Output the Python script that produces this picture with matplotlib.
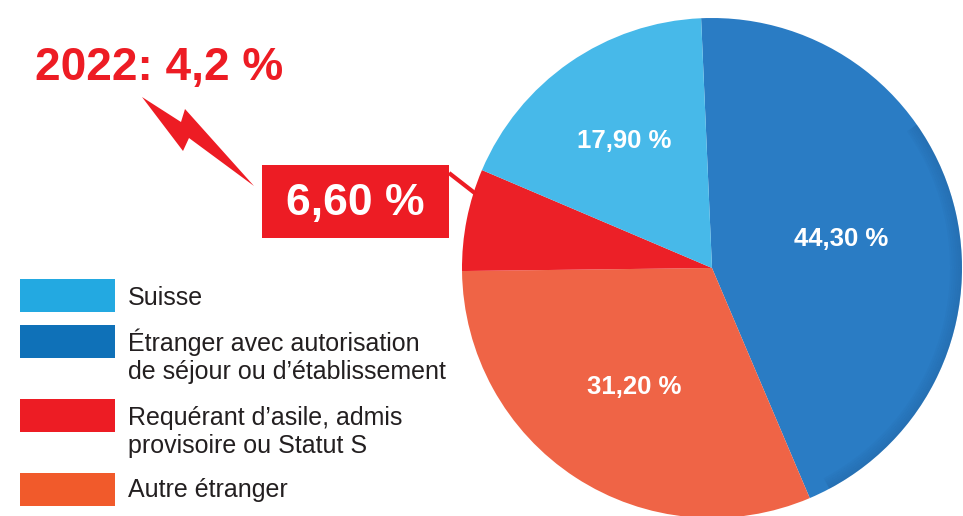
import matplotlib
matplotlib.use("Agg")
import numpy as np
import matplotlib.pyplot as plt
from matplotlib.patches import Rectangle, Polygon, Wedge

# données
categories = ["Suisse",
              "Étranger avec autorisation\nde séjour ou d’établissement",
              "Requérant d’asile, admis\nprovisoire ou Statut S",
              "Autre étranger"]
valeurs = [17.9, 44.3, 6.6, 31.2]
couleurs_pie = ["#47b9e9", "#2a7cc4", "#ec2027", "#ef6446"]
couleurs_legende = ["#23a9e1", "#0f71b8", "#ed1c24", "#f15a2b"]
annee_prec = 2022
valeur_prec = 4.2

# ordre du camembert (sens horaire depuis le haut)
ordre = [1, 3, 2, 0]
dist_labels = [0.62, 0.53, 0.0, 0.57]

ROUGE = "#ed1c24"
TEXTE = "#231f20"
W, H = 963, 516

plt.rcParams['font.family'] = ['Liberation Sans', 'DejaVu Sans']
fig = plt.figure(figsize=(W / 100, H / 100), dpi=100)
ax = fig.add_axes([0, 0, 1, 1])

# ==========================
# Camembert
# ==========================
cx, cy, r = 712, 268, 250
wedges, _ = ax.pie([valeurs[i] for i in ordre],
                   colors=[couleurs_pie[i] for i in ordre],
                   startangle=-92.5, counterclock=True,
                   center=(cx, cy), radius=r, frame=True,
                   wedgeprops=dict(linewidth=0))

# petit effet de relief sur le bord droit
for k in range(6):
    ax.add_patch(Wedge((cx, cy), r - k * 2, -35, 62, width=2,
                       color="#1b4f86", alpha=0.26 - k * 0.04, lw=0))

def fmt(v):
    return f"{v:.2f} %".replace(".", ",")

gras = ['Liberation Sans Narrow', 'Liberation Sans', 'DejaVu Sans']
for w, i in zip(wedges, ordre):
    if dist_labels[i] == 0:
        continue
    mid = np.deg2rad((w.theta1 + w.theta2) / 2)
    d = dist_labels[i] * r
    ax.text(cx + d * np.cos(mid), cy + d * np.sin(mid), fmt(valeurs[i]),
            color="white", fontsize=18.5, fontweight="bold", family=gras,
            ha="center", va="center")

# ==========================
# Encadré Requérant + éclair
# ==========================
ax.plot([449, 476], [173, 194], color=ROUGE, lw=3, solid_capstyle="butt")
ax.add_patch(Rectangle((262, 165), 187, 73, color=ROUGE, lw=0))
ax.text(355, 203, fmt(valeurs[2]), color="white", fontsize=32,
        fontweight="bold", family=gras, ha="center", va="center")

eclair = [(142, 97), (181, 122), (185, 109), (254, 186), (189, 138), (183, 151)]
ax.add_patch(Polygon(eclair, closed=True, color=ROUGE, lw=0))

ax.text(35, 80, f"{annee_prec}: {valeur_prec:.1f} %".replace(".", ","),
        color=ROUGE, fontsize=33, fontweight="bold", family=gras,
        ha="left", va="baseline")

# ==========================
# Légende
# ==========================
boites_y = [279, 325, 399, 473]
bases_y = [305, 351, 425, 497]
for i in range(4):
    ax.add_patch(Rectangle((20, boites_y[i]), 95, 33,
                           color=couleurs_legende[i], lw=0))
    for j, ligne in enumerate(categories[i].split("\n")):
        ax.text(128, bases_y[i] + j * 28.5, ligne, color=TEXTE, fontsize=18,
                ha="left", va="baseline")

ax.set_xlim(0, W)
ax.set_ylim(H, 0)
ax.set_aspect("auto")
ax.axis("off")

fig.savefig("out.png", dpi=100, facecolor="white")
